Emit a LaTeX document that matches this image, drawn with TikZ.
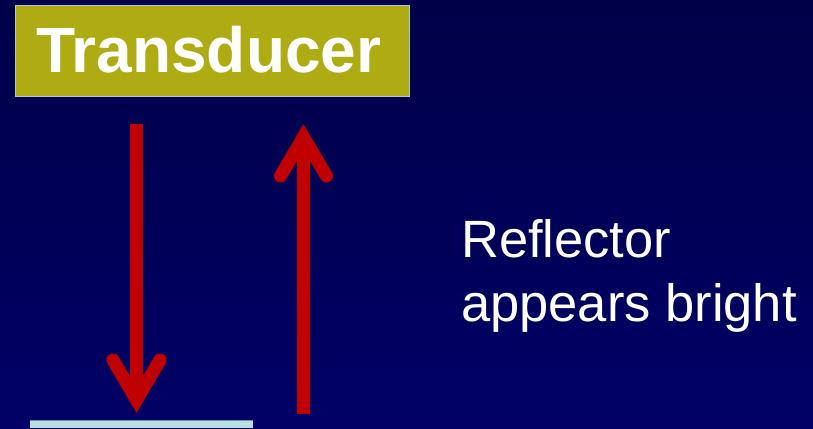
\documentclass[tikz,border=0pt]{standalone}
\usepackage{fontspec}
\setmainfont{Liberation Sans}
\definecolor{bgtop}{RGB}{0,0,72}
\definecolor{bgbot}{RGB}{0,0,102}
\definecolor{olivebox}{RGB}{175,171,18}
\definecolor{boxedge}{RGB}{160,208,224}
\definecolor{arrowred}{RGB}{192,0,0}
\definecolor{reflcol}{RGB}{184,224,228}
\tikzset{
  shaft/.style={draw=arrowred, line width=13pt, line cap=butt},
  chevron/.style={draw=arrowred, line width=13pt, line cap=round, line join=miter},
  shadowline/.style={draw=black, opacity=0.35, line width=13pt, line cap=round, line join=miter},
  whitetext/.style={text=white, inner sep=0pt, anchor=base west},
}
\begin{document}
\begin{tikzpicture}[x=1pt, y=-1pt]
  \useasboundingbox (0,0) rectangle (813,428);
  \shade[top color=bgtop, bottom color=bgbot] (0,0) rectangle (813,428);
  % reflector
  \fill[reflcol] (30,420) rectangle (253,428);
  \draw[boxedge!70!black, line width=0.6pt] (30,420.3) -- (253,420.3);
  % transducer box
  \node[draw=boxedge, line width=1.5pt, fill=olivebox, minimum width=394pt, minimum height=91pt, inner sep=0pt] (tbox) at (212.5,51) {};
  \node[whitetext, font=\bfseries\fontsize{64}{70}\selectfont] (tlabel) at (36,72) {Transducer};
  % arrow coordinates
  \coordinate (dstart) at (136.5,124);
  \coordinate (dtip) at (136.5,400);
  \coordinate (dwl) at (113,360);
  \coordinate (dwr) at (160,360);
  \coordinate (ustart) at (303.5,414);
  \coordinate (utip) at (303.5,137);
  \coordinate (uwl) at (280.5,176);
  \coordinate (uwr) at (326.5,176);
  % shadows
  \begin{scope}[shift={(2,3)}]
    \draw[shadowline, line cap=butt] (dstart) -- (dtip);
    \draw[shadowline] (dwl) -- (dtip) -- (dwr);
    \draw[shadowline, line cap=butt] (ustart) -- (utip);
    \draw[shadowline] (uwl) -- (utip) -- (uwr);
  \end{scope}
  % down arrow
  \draw[shaft] (dstart) -- (dtip);
  \draw[chevron] (dwl) -- (dtip) -- (dwr);
  % up arrow
  \draw[shaft] (ustart) -- (utip);
  \draw[chevron] (uwl) -- (utip) -- (uwr);
  % text
  \node[whitetext, font=\fontsize{52.5}{64}\selectfont] (refl1) at (461,257) {Reflector};
  \node[whitetext, font=\fontsize{52.5}{64}\selectfont] (refl2) at (461,321) {appears bright};
\end{tikzpicture}
\end{document}
